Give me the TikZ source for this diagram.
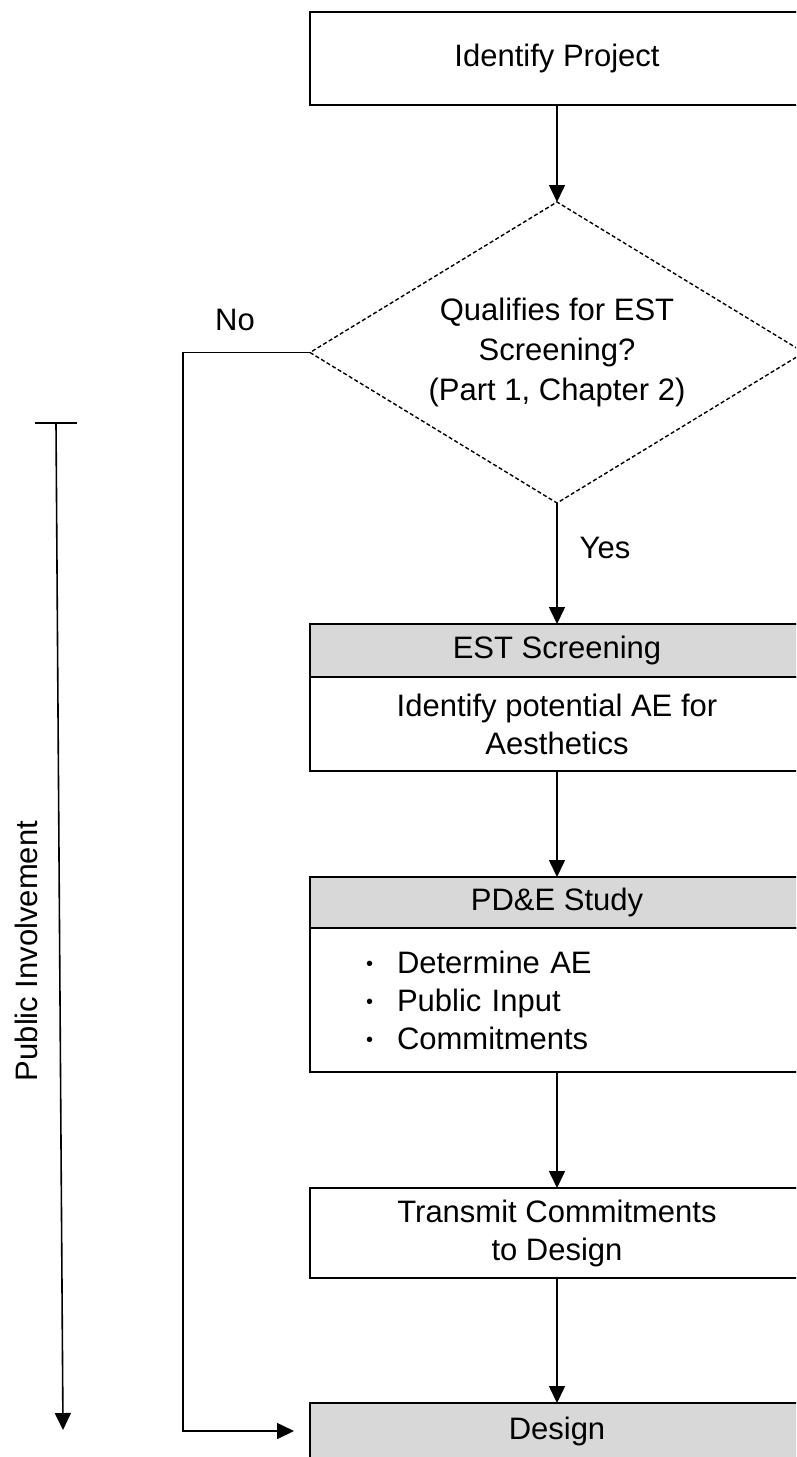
\documentclass[tikz,border=0pt]{standalone}
\usepackage{fontspec}
\setmainfont{Liberation Sans}
\usetikzlibrary{arrows.meta,shapes.geometric}
\definecolor{hdrgray}{RGB}{216,216,216}
\newcommand{\bul}{\makebox[31pt][l]{\raisebox{3pt}{\fontsize{20}{20}\selectfont •}}}
\begin{document}
\begin{tikzpicture}[x=1pt,y=-1pt,
  every node/.style={font=\fontsize{31}{38}\selectfont},
  box/.style={draw,line width=1.6pt,minimum width=494pt,inner sep=0pt,outer sep=0pt,align=center},
  hdr/.style={box,fill=hdrgray},
  flow/.style={line width=1.6pt,-{Triangle[length=17pt,width=16pt]}},
  plain/.style={line width=1.6pt},
  ]
\useasboundingbox (0,0) rectangle (796,1457);
\clip (0,0) rectangle (796,1457);

\node[box,minimum height=93pt] (ident) at (557,58.5) {Identify Project};
\node[draw,diamond,line width=1.4pt,dash pattern=on 4pt off 2.5pt,minimum width=494pt,minimum height=301pt,aspect=1.64,inner sep=0pt,outer sep=0pt,align=center,font=\fontsize{31}{40}\selectfont] (dia) at (557,352.5) {Qualifies for EST\\Screening?\\(Part 1, Chapter 2)};

\node[hdr,minimum height=53pt] (esth) at (557,650.5) {EST Screening};
\node[box,minimum height=94pt,anchor=north] (estb) at (esth.south) {Identify potential AE for\\Aesthetics};

\node[hdr,minimum height=51pt] (pdeh) at (557,902.5) {PD\&E Study};
\node[box,minimum height=144pt,anchor=north,align=left,text width=382pt] (pdeb) at (pdeh.south) {\bul Determine AE\\\bul Public Input\\\bul Commitments};

\node[box,minimum height=90pt] (trans) at (557,1233) {Transmit Commitments\\to Design};
\node[hdr,minimum height=56pt] (design) at (557,1431) {Design};

\node (no) at (235,320) {No};
\node (yes) at (605,548) {Yes};

\draw[flow] (ident.south) -- (dia.north);
\draw[flow] (dia.south) -- (esth.north);
\draw[flow] (estb.south) -- (pdeh.north);
\draw[flow] (pdeb.south) -- (trans.north);
\draw[flow] (trans.south) -- (design.north);
\draw[flow] (dia.west) -- ++(-127,0) |- ([xshift=-16pt]design.west);

\coordinate (pitop) at (56,423);
\coordinate (pibot) at (63,1430);
\draw[plain] (pitop) ++(-21,0) -- ++(42,0);
\draw[flow] (pitop) -- (pibot);
\node[rotate=90] (pub) at (26,951) {Public Involvement};
\end{tikzpicture}
\end{document}
